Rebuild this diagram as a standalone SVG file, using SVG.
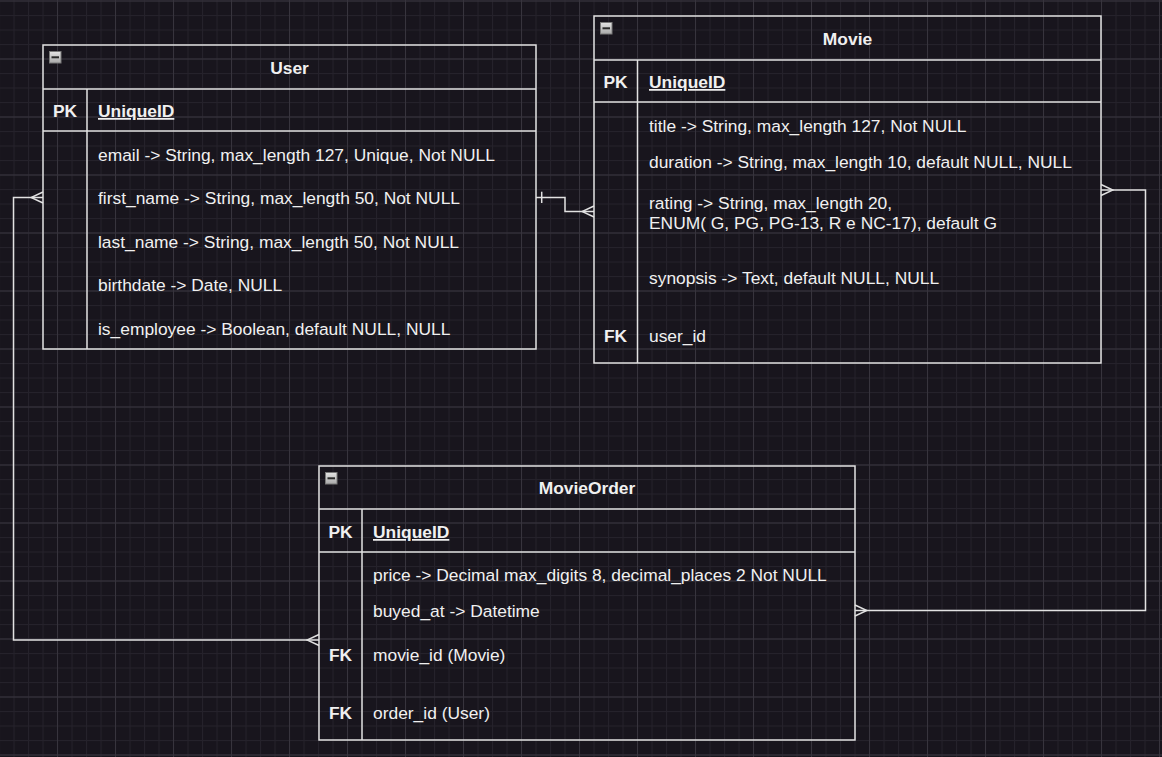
<svg xmlns="http://www.w3.org/2000/svg" width="1162" height="757" viewBox="0 0 1162 757">
<style>
.bg{fill:#18151d}
.tbl{fill:none;stroke:#e2e2e2;stroke-width:1.5}
.ln{stroke:#e2e2e2;stroke-width:1.5;fill:none}
.t{font-family:"Liberation Sans",Arial,sans-serif;font-size:17.4px;fill:#f0f0f0}
.b{font-weight:bold}
.c{text-anchor:middle}
.u{text-decoration:underline}
.con{fill:none;stroke:#e2e2e2;stroke-width:1.5}
.ico{fill:url(#icog);stroke:#7a7a7a;stroke-width:1}
.icm{stroke:#2a2a2a;stroke-width:2}
</style>
<defs>
<pattern id="minor" x="13.5" y="0.5" width="14.5" height="14.5" patternUnits="userSpaceOnUse">
<rect x="0" y="0" width="1" height="14.5" fill="#25222b"/>
<rect x="0" y="0" width="14.5" height="1" fill="#25222b"/>
</pattern>
<pattern id="major" x="57" y="0.5" width="58" height="58" patternUnits="userSpaceOnUse">
<rect x="0" y="0" width="1" height="58" fill="#37343d"/>
<rect x="0" y="0" width="58" height="1" fill="#37343d"/>
</pattern>
<linearGradient id="icog" x1="0" y1="0" x2="0" y2="1">
<stop offset="0" stop-color="#e4e4e4"/>
<stop offset="1" stop-color="#a9a9a9"/>
</linearGradient>
<marker id="many" markerUnits="userSpaceOnUse" viewBox="0 0 14 14" markerWidth="14" markerHeight="14" refX="13" refY="7" orient="auto-start-reverse">
<path d="M13 1.5 L1 7 L13 12.5" fill="none" stroke="#e2e2e2" stroke-width="1.5"/>
</marker>
<marker id="one" markerUnits="userSpaceOnUse" viewBox="0 0 14 14" markerWidth="14" markerHeight="14" refX="0" refY="7" orient="auto">
<path d="M5.7 1.2 V12.5" fill="none" stroke="#e2e2e2" stroke-width="1.5"/>
</marker>
</defs>
<rect class="bg" x="0" y="0" width="1162" height="757"/>
<rect x="0" y="0" width="1162" height="757" fill="url(#minor)"/>
<rect x="0" y="0" width="1162" height="757" fill="url(#major)"/>

<g id="connectors">
<path class="con" d="M536 197.5 H565 V211.5 H594" marker-start="url(#one)" marker-end="url(#many)"/>
<path class="con" d="M1101 190 H1145.5 V610.5 H855" marker-start="url(#many)" marker-end="url(#many)"/>
<path class="con" d="M43 197.5 H13.5 V640 H319" marker-start="url(#many)" marker-end="url(#many)"/>
</g>

<g id="user">
<rect class="tbl" x="43" y="45" width="493" height="304"/>
<line class="ln" x1="43" y1="89" x2="536" y2="89"/>
<line class="ln" x1="43" y1="131" x2="536" y2="131"/>
<line class="ln" x1="87" y1="89" x2="87" y2="349"/>
<rect class="ico" x="49.5" y="51.5" width="11.5" height="11.5"/>
<line class="icm" x1="51.5" y1="57.3" x2="59" y2="57.3"/>
<text class="t b c" x="289.5" y="74">User</text>
<text class="t b c" x="65" y="117">PK</text>
<text class="t b u" x="98" y="117">UniqueID</text>
<text class="t" x="98" y="161">email -&gt; String, max_length 127, Unique, Not NULL</text>
<text class="t" x="98" y="204">first_name -&gt; String, max_length 50, Not NULL</text>
<text class="t" x="98" y="248">last_name -&gt; String, max_length 50, Not NULL</text>
<text class="t" x="98" y="291">birthdate -&gt; Date, NULL</text>
<text class="t" x="98" y="335">is_employee -&gt; Boolean, default NULL, NULL</text>
</g>

<g id="movie">
<rect class="tbl" x="594" y="16" width="507" height="347"/>
<line class="ln" x1="594" y1="60" x2="1101" y2="60"/>
<line class="ln" x1="594" y1="102" x2="1101" y2="102"/>
<line class="ln" x1="637.5" y1="60" x2="637.5" y2="363"/>
<rect class="ico" x="600.5" y="22.5" width="11.5" height="11.5"/>
<line class="icm" x1="602.5" y1="28.3" x2="610" y2="28.3"/>
<text class="t b c" x="847.5" y="45">Movie</text>
<text class="t b c" x="615.5" y="88">PK</text>
<text class="t b u" x="649" y="88">UniqueID</text>
<text class="t" x="649" y="132">title -&gt; String, max_length 127, Not NULL</text>
<text class="t" x="649" y="168">duration -&gt; String, max_length 10, default NULL, NULL</text>
<text class="t" x="649" y="209">rating -&gt; String, max_length 20,</text>
<text class="t" x="649" y="229">ENUM( G, PG, PG-13, R e NC-17), default G</text>
<text class="t" x="649" y="284">synopsis -&gt; Text, default NULL, NULL</text>
<text class="t b c" x="615.5" y="342">FK</text>
<text class="t" x="649" y="342">user_id</text>
</g>

<g id="movieorder">
<rect class="tbl" x="319" y="466" width="536" height="274"/>
<line class="ln" x1="319" y1="509" x2="855" y2="509"/>
<line class="ln" x1="319" y1="552" x2="855" y2="552"/>
<line class="ln" x1="362" y1="509" x2="362" y2="740"/>
<rect class="ico" x="325.5" y="472.5" width="11.5" height="11.5"/>
<line class="icm" x1="327.5" y1="478.3" x2="335" y2="478.3"/>
<text class="t b c" x="587" y="494">MovieOrder</text>
<text class="t b c" x="340.5" y="538">PK</text>
<text class="t b u" x="373" y="538">UniqueID</text>
<text class="t" x="373" y="581">price -&gt; Decimal max_digits 8, decimal_places 2 Not NULL</text>
<text class="t" x="373" y="617">buyed_at -&gt; Datetime</text>
<text class="t b c" x="340.5" y="661">FK</text>
<text class="t" x="373" y="661">movie_id (Movie)</text>
<text class="t b c" x="340.5" y="719">FK</text>
<text class="t" x="373" y="719">order_id (User)</text>
</g>
</svg>
